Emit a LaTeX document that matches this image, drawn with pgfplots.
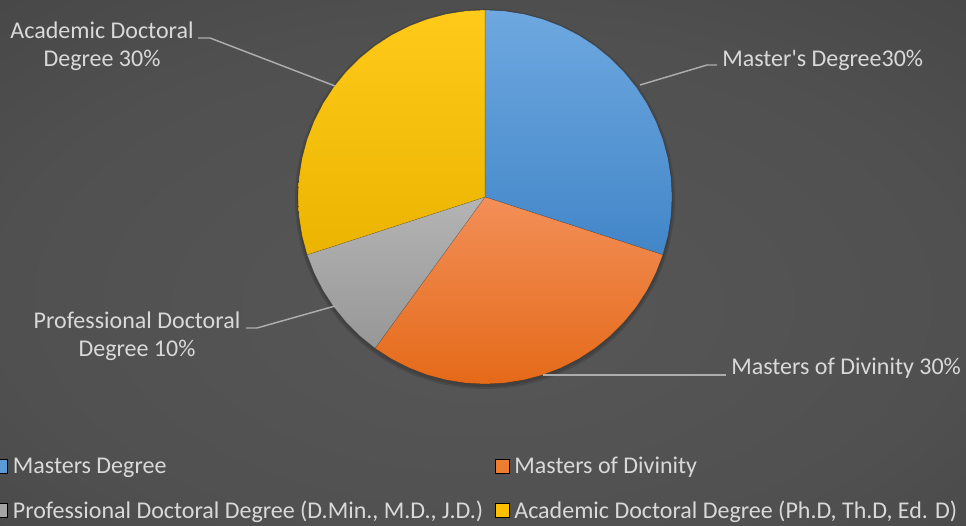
\documentclass[border=0pt]{standalone}
\usepackage{pgfplots}
\pgfplotsset{compat=1.18}
\usepackage{fontspec}
\setmainfont{Carlito}
\newfontfamily\carl{Carlito}
\usetikzlibrary{backgrounds}
\definecolor{bgin}{HTML}{575757}
\definecolor{bgmidA}{HTML}{505050}
\definecolor{bgmidB}{HTML}{464646}
\definecolor{bgout}{HTML}{2C2C2C}
\definecolor{txt}{HTML}{D9D9D9}
\definecolor{lead}{HTML}{ADADAD}
\definecolor{blueT}{HTML}{6EA8E0}
\definecolor{blueB}{HTML}{4286C8}
\definecolor{oranT}{HTML}{F28F58}
\definecolor{oranB}{HTML}{E56A19}
\definecolor{grayT}{HTML}{B4B4B4}
\definecolor{grayB}{HTML}{979797}
\definecolor{yellT}{HTML}{FFCA1A}
\definecolor{yellB}{HTML}{EBB400}
\definecolor{blueL}{HTML}{5B9BD5}
\definecolor{oranL}{HTML}{ED7D31}
\definecolor{grayL}{HTML}{A5A5A5}
\definecolor{yellL}{HTML}{FFC000}
\pgfdeclareradialshading{bgshade}{\pgfpoint{0bp}{-5bp}}{color(0bp)=(bgin); color(25bp)=(bgmidA); color(40bp)=(bgmidB); color(75bp)=(bgout)}
\begin{document}
\begin{tikzpicture}
\useasboundingbox (0,0) rectangle (724.5pt,393.75pt);
\begin{axis}[
  at={(0,0)}, anchor=south west,
  width=724.5pt, height=393.75pt, scale only axis,
  xmin=-485, xmax=481, ymin=-328, ymax=197,
  axis lines=none, clip=false,
  legend columns=2,
  legend cell align=left,
  legend image code/.code={\fill[#1] (0pt,-4.7pt) rectangle (10.5pt,5.5pt);},
  legend style={at={(axis cs:-492,-259)}, anchor=north west, draw=none, fill=none,
    inner sep=0pt, outer sep=0pt, text=txt, font=\fontsize{18}{21.5}\selectfont,
    row sep=17pt,
    nodes={inner xsep=0.5pt, inner ysep=1pt},
    /tikz/every odd column/.append style={column sep=3.5pt},
    /tikz/every even column/.append style={column sep=8pt}},
]
\addlegendimage{fill=blueL}
\addlegendentry{Masters Degree}
\addlegendimage{fill=oranL}
\addlegendentry{Masters of Divinity}
\addlegendimage{fill=grayL}
\addlegendentry{Professional Doctoral Degree (D.Min., M.D., J.D.)}
\addlegendimage{fill=yellL}
\addlegendentry{Academic Doctoral Degree (Ph.D, Th.D, Ed. D)}

\fill[black, opacity=0.12] (axis cs:0,-2) circle[radius=142.5pt];
\fill[black, opacity=0.12] (axis cs:0,-2) circle[radius=141pt];

% Masters Degree 30%
\addplot[forget plot, data cs=polar, draw=black, draw opacity=0.2, line width=0.4pt, top color=blueT, bottom color=blueB]
 coordinates {(0,0) (90,187) (84,187) (78,187) (72,187) (66,187) (60,187) (54,187) (48,187) (42,187) (36,187) (30,187) (24,187) (18,187) (12,187) (6,187) (0,187) (-6,187) (-12,187) (-18,187) (0,0)};
% Masters of Divinity 30%
\addplot[forget plot, data cs=polar, draw=black, draw opacity=0.2, line width=0.4pt, top color=oranT, bottom color=oranB]
 coordinates {(0,0) (-18,187) (-24,187) (-30,187) (-36,187) (-42,187) (-48,187) (-54,187) (-60,187) (-66,187) (-72,187) (-78,187) (-84,187) (-90,187) (-96,187) (-102,187) (-108,187) (-114,187) (-120,187) (-126,187) (0,0)};
% Professional Doctoral 10%
\addplot[forget plot, data cs=polar, draw=black, draw opacity=0.2, line width=0.4pt, top color=grayT, bottom color=grayB]
 coordinates {(0,0) (-126,187) (-132,187) (-138,187) (-144,187) (-150,187) (-156,187) (-162,187) (0,0)};
% Academic Doctoral 30%
\addplot[forget plot, data cs=polar, draw=black, draw opacity=0.2, line width=0.4pt, top color=yellT, bottom color=yellB]
 coordinates {(0,0) (-162,187) (-168,187) (-174,187) (-180,187) (-186,187) (-192,187) (-198,187) (-204,187) (-210,187) (-216,187) (-222,187) (-228,187) (-234,187) (-240,187) (-246,187) (-252,187) (-258,187) (-264,187) (-270,187) (0,0)};

% leader lines
\addplot[forget plot, lead, line width=1.1pt] coordinates {(155,112) (222,132) (232,132)};
\addplot[forget plot, lead, line width=1.1pt] coordinates {(-287,159) (-275,159) (-150,111)};
\addplot[forget plot, lead, line width=1.1pt] coordinates {(-239,-131) (-228,-131) (-150,-109)};
\addplot[forget plot, lead, line width=1.1pt] coordinates {(58,-178) (241,-178)};

\begin{scope}[every node/.style={text=txt, font=\fontsize{18}{21}\selectfont, inner sep=0pt}]
\node[anchor=west] at (axis cs:237,137) {Master{\carl '}s Degree30\%};
\node[anchor=west] at (axis cs:246,-171) {Masters of Divinity 30\%};
\node[align=center] at (axis cs:-383,151) {Academic Doctoral\\Degree 30\%};
\node[align=center] at (axis cs:-348,-139) {Professional Doctoral\\Degree 10\%};
\end{scope}
\end{axis}
\begin{scope}[on background layer]
\shade[shading=bgshade] (0,0) rectangle (724.5pt,393.75pt);
\end{scope}
\end{tikzpicture}
\end{document}
